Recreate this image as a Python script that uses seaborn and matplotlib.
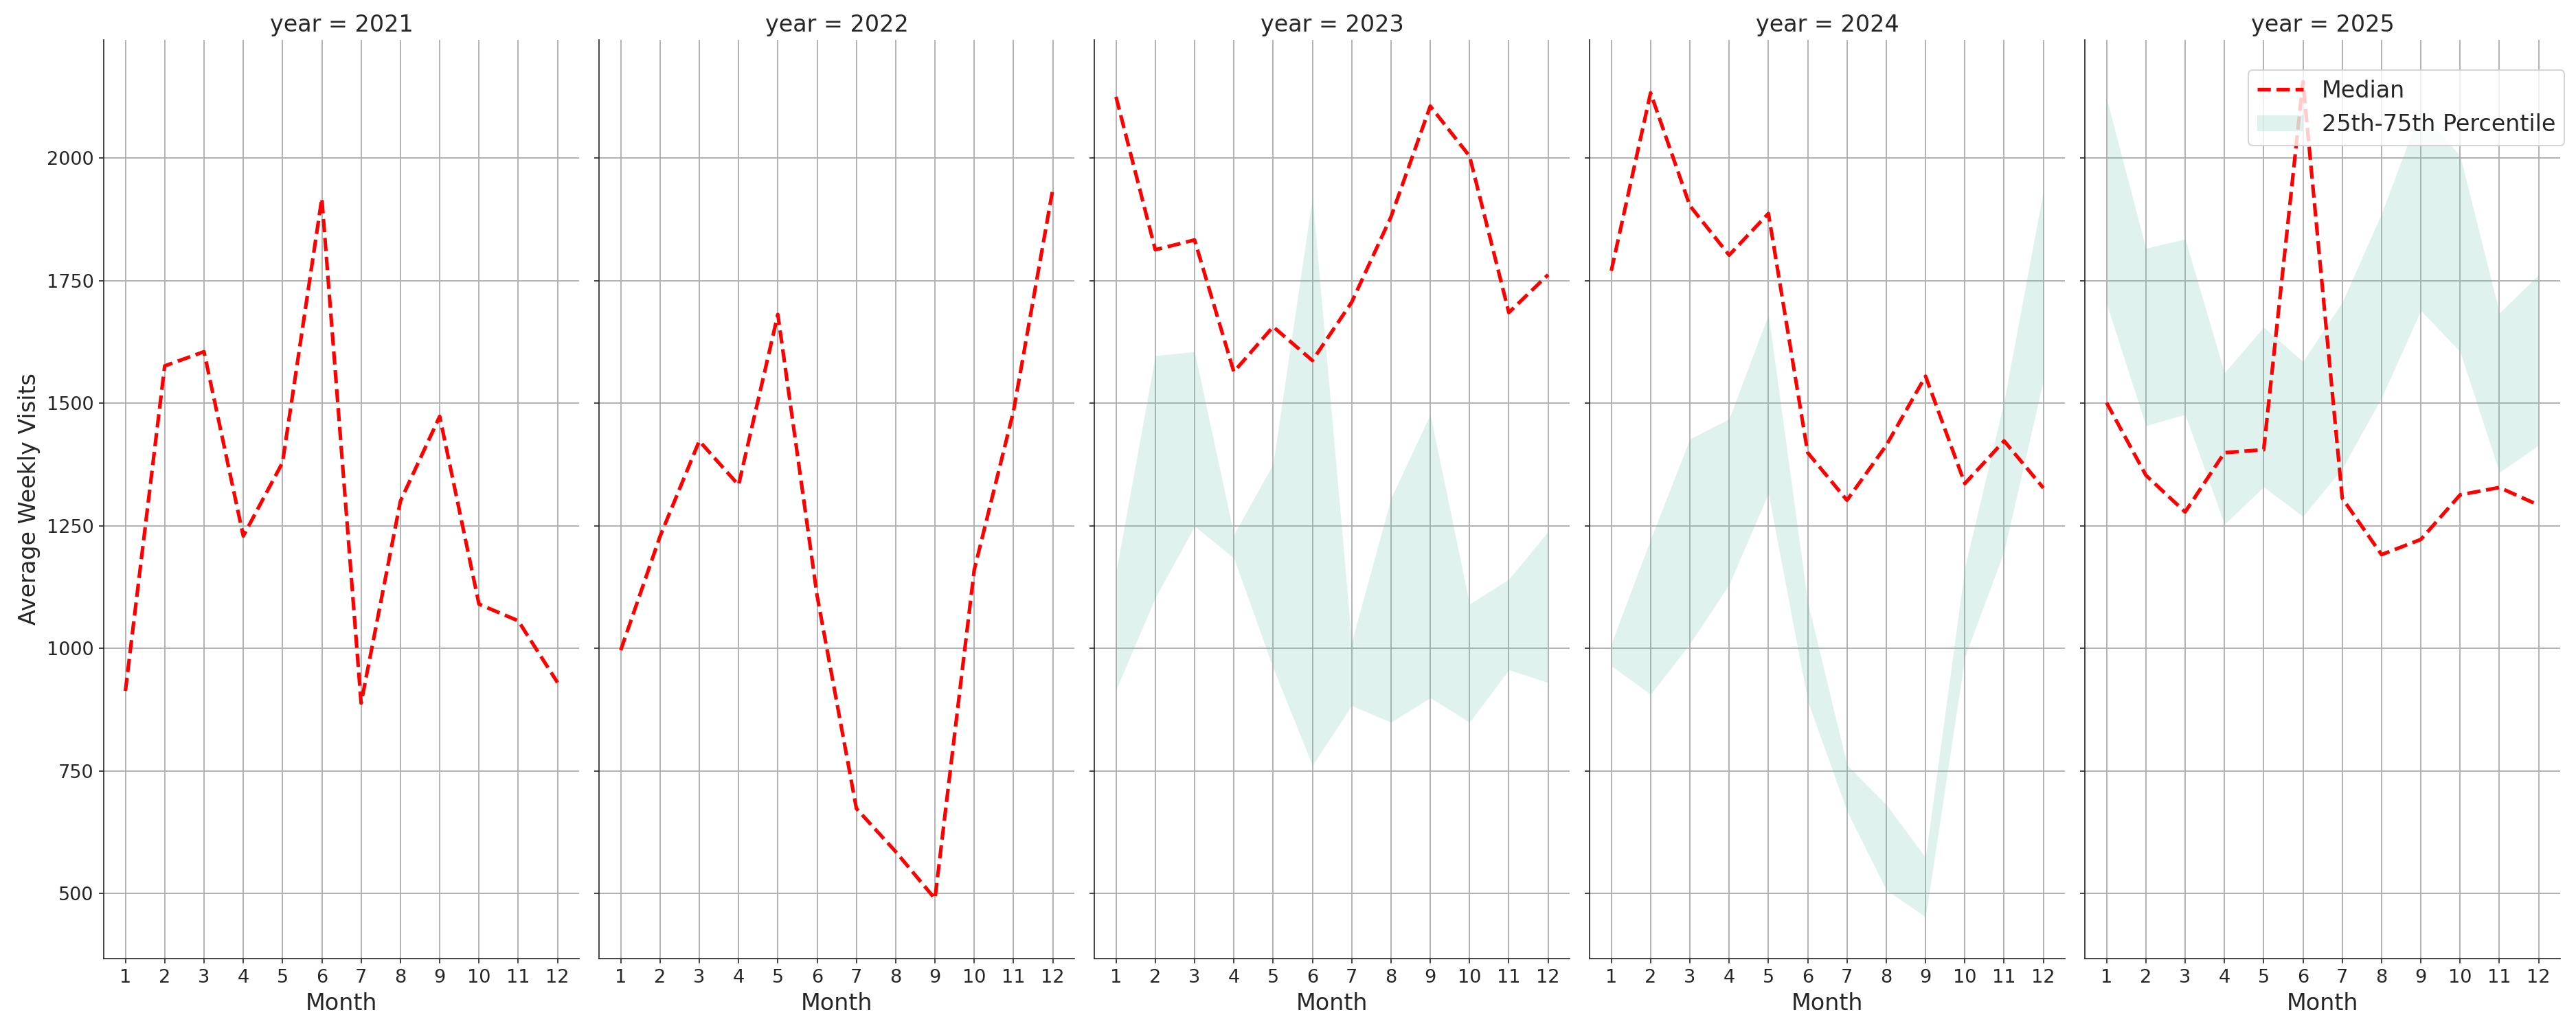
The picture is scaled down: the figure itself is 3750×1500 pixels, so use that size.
import numpy as np
import pandas as pd
import matplotlib
matplotlib.use("Agg")
import matplotlib.pyplot as plt
import seaborn as sns
from matplotlib.lines import Line2D
from matplotlib.patches import Patch

years = [2021, 2022, 2023, 2024, 2025]
months = list(range(1, 13))

median_2021 = [913, 1576, 1605, 1229, 1379, 1918, 888, 1300, 1473, 1090, 1056, 930]
median_2022 = [996, 1228, 1423, 1333, 1681, 1107, 673, 585, 489, 1160, 1484, 1937]
median_2023 = [2125, 1813, 1833, 1564, 1656, 1587, 1706, 1880, 2106, 2004, 1685, 1762]
median_2024 = [1770, 2133, 1903, 1802, 1887, 1399, 1302, 1414, 1555, 1336, 1423, 1327]
median_2025 = [1501, 1353, 1278, 1399, 1405, 2156, 1306, 1191, 1222, 1313, 1328, 1292]

p25_2023 = [915, 1103, 1249, 1184, 960, 761, 883, 849, 899, 849, 956, 930]
p75_2023 = [1155, 1597, 1605, 1232, 1376, 1921, 1013, 1306, 1477, 1090, 1141, 1238]
p25_2024 = [964, 906, 1009, 1130, 1316, 892, 668, 507, 452, 982, 1198, 1547]
p75_2024 = [1009, 1222, 1427, 1468, 1681, 1094, 762, 681, 573, 1165, 1504, 1934]
p25_2025 = [1703, 1454, 1477, 1253, 1329, 1269, 1367, 1511, 1689, 1605, 1359, 1414]
p75_2025 = [2122, 1816, 1835, 1562, 1655, 1585, 1706, 1887, 2100, 2004, 1684, 1762]

medians = {2021: median_2021, 2022: median_2022, 2023: median_2023,
           2024: median_2024, 2025: median_2025}
p25s = {2023: p25_2023, 2024: p25_2024, 2025: p25_2025}
p75s = {2023: p75_2023, 2024: p75_2024, 2025: p75_2025}

rows = []
for y in years:
    for i, m in enumerate(months):
        rows.append({
            "year": y, "month": m, "median": medians[y][i],
            "p25": p25s[y][i] if y in p25s else np.nan,
            "p75": p75s[y][i] if y in p75s else np.nan,
        })
df = pd.DataFrame(rows)

sns.set_style("ticks", {"axes.grid": True, "grid.color": "#b0b0b0",
                        "axes.edgecolor": "0.15"})
plt.rcParams["font.family"] = ["DejaVu Sans"]

band_color = "#66c2a5"


def draw(data, **kws):
    ax = plt.gca()
    sns.lineplot(data=data, x="month", y="median", ax=ax, color="red",
                 linestyle="--", linewidth=2.5)
    d = data.dropna(subset=["p25"])
    if len(d):
        ax.fill_between(d["month"], d["p25"], d["p75"], color=band_color,
                        alpha=0.2, linewidth=0)


g = sns.FacetGrid(df, col="year", sharey=True, height=10, aspect=0.5)
g.map_dataframe(draw)
g.figure.set_size_inches(25, 10)
g.set_titles("year = {col_name}", size=16)
g.set_axis_labels("Month", "Average Weekly Visits", fontsize=16)
for ax in g.axes.flat:
    ax.set_xticks(months)
    ax.tick_params(labelsize=13)
    ax.grid(True, color="#b0b0b0", linewidth=0.9)
    ax.set_axisbelow(True)

handles = [Line2D([0], [0], color="red", linestyle="--", linewidth=2.5),
           Patch(facecolor=band_color, alpha=0.2, edgecolor="none")]
g.figure.legend(handles, ["Median", "25th-75th Percentile"],
                loc="upper right", bbox_to_anchor=(1.0, 0.943),
                fontsize=16, frameon=True)

g.figure.subplots_adjust(left=0.0403, right=0.9939, top=0.9613, bottom=0.0693,
                         wspace=0.042)
g.figure.savefig("out.png", dpi=150)
